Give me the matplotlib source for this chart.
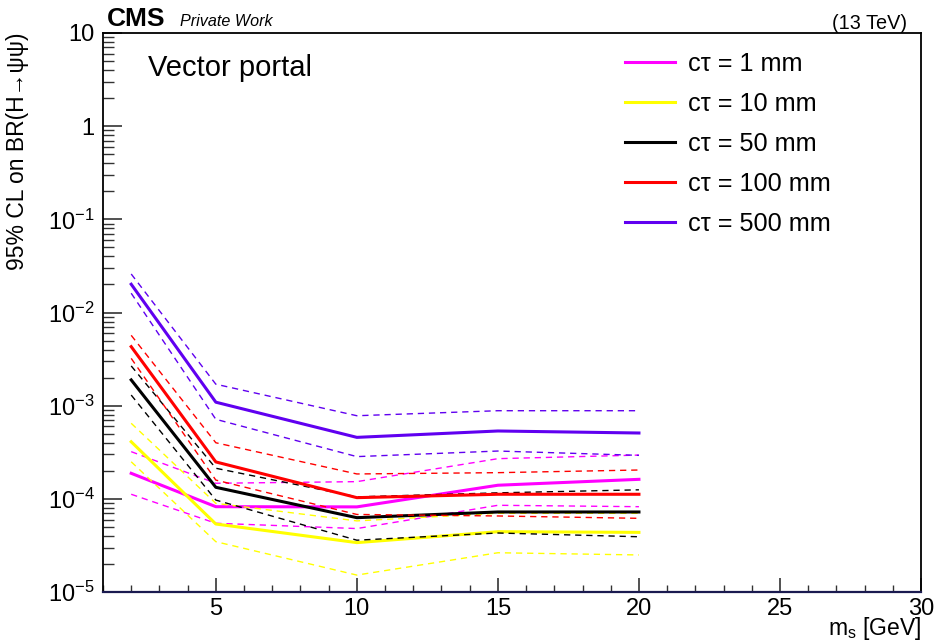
import matplotlib
matplotlib.use('Agg')
import matplotlib.pyplot as plt
from matplotlib.ticker import FixedLocator, FixedFormatter, MultipleLocator, LogLocator, NullFormatter

plt.rcParams['font.family'] = ['Liberation Sans', 'DejaVu Sans']
plt.rcParams['mathtext.fontset'] = 'custom'
plt.rcParams['mathtext.rm'] = 'Liberation Sans'
plt.rcParams['mathtext.it'] = 'Liberation Sans:italic'

# mass points [GeV]
mass = [2, 5, 10, 15, 20]

# expected limits with +/-1 sigma bands, one set per lifetime
ct1_exp = [1.88e-4, 8.24e-5, 8.2e-5, 1.40e-4, 1.62e-4]
ct1_up = [3.21e-4, 1.47e-4, 1.53e-4, 2.70e-4, 2.95e-4]
ct1_dn = [1.12e-4, 5.47e-5, 4.8e-5, 8.53e-5, 8.24e-5]

ct10_exp = [4.10e-4, 5.37e-5, 3.39e-5, 4.44e-5, 4.37e-5]
ct10_up = [6.47e-4, 8.95e-5, 5.8e-5, 7.0e-5, 7.0e-5]
ct10_dn = [2.5e-4, 3.47e-5, 1.52e-5, 2.64e-5, 2.50e-5]

ct50_exp = [1.89e-3, 1.33e-4, 6.28e-5, 7.23e-5, 7.23e-5]
ct50_up = [2.67e-3, 2.13e-4, 1.05e-4, 1.16e-4, 1.25e-4]
ct50_dn = [1.30e-3, 9.7e-5, 3.6e-5, 4.3e-5, 3.92e-5]

ct100_exp = [4.30e-3, 2.49e-4, 1.03e-4, 1.12e-4, 1.12e-4]
ct100_up = [5.69e-3, 4.0e-4, 1.85e-4, 1.91e-4, 2.04e-4]
ct100_dn = [3.22e-3, 1.59e-4, 6.8e-5, 6.55e-5, 6.18e-5]

ct500_exp = [2.01e-2, 1.09e-3, 4.57e-4, 5.35e-4, 5.09e-4]
ct500_up = [2.59e-2, 1.70e-3, 7.8e-4, 8.83e-4, 8.83e-4]
ct500_dn = [1.61e-2, 7.14e-4, 2.84e-4, 3.26e-4, 2.93e-4]

labels = ['cτ = 1 mm', 'cτ = 10 mm', 'cτ = 50 mm', 'cτ = 100 mm', 'cτ = 500 mm']
colors = ['#ff00ff', '#ffff00', '#000000', '#ff0000', '#6000f0']

ytick_vals = [1e-5, 1e-4, 1e-3, 1e-2, 1e-1, 1, 10]
ytick_text = ['$10^{-5}$', '$10^{-4}$', '$10^{-3}$', '$10^{-2}$', '$10^{-1}$', '1', '10']

series = [
    (ct1_exp, ct1_up, ct1_dn),
    (ct10_exp, ct10_up, ct10_dn),
    (ct50_exp, ct50_up, ct50_dn),
    (ct100_exp, ct100_up, ct100_dn),
    (ct500_exp, ct500_up, ct500_dn),
]

fig = plt.figure(figsize=(9.38, 6.44), dpi=100)
ax = fig.add_axes([0.1098, 0.0807, 0.8721, 0.8681])

handles = []
for (exp, up, dn), lab, col in zip(series, labels, colors):
    for band in (up, dn):
        ax.plot(mass, band, color=col, lw=1.0, dashes=(4.5, 3.5))
    h, = ax.plot(mass, exp, color=col, lw=2.2, label=lab)
    handles.append(h)

ax.set_yscale('log')
ax.set_xlim(1, 30)
ax.set_ylim(1e-5, 10)

ax.yaxis.set_major_locator(FixedLocator(ytick_vals))
ax.yaxis.set_major_formatter(FixedFormatter(ytick_text))
ax.yaxis.set_minor_locator(LogLocator(base=10, subs=range(2, 10), numticks=20))
ax.yaxis.set_minor_formatter(NullFormatter())
ax.xaxis.set_major_locator(MultipleLocator(5))
ax.xaxis.set_minor_locator(MultipleLocator(1))

ax.tick_params(axis='both', which='both', direction='in', top=False, right=False,
               labelsize=17, color='#333333')
ax.tick_params(axis='y', which='major', length=14, width=1.2, pad=6)
ax.tick_params(axis='y', which='minor', length=8, width=1.0)
ax.tick_params(axis='x', which='major', length=10, width=1.2, pad=4)
ax.tick_params(axis='x', which='minor', length=5, width=1.0)

for side in ('top', 'right', 'left'):
    ax.spines[side].set_linewidth(1.3)
    ax.spines[side].set_color('black')
ax.spines['bottom'].set_linewidth(1.6)
ax.spines['bottom'].set_color('#1a1a50')

# axis titles pinned to the top / right ends like ROOT does
ax.set_ylabel('95% CL on BR(H→ψψ)', fontsize=16.5)
ax.yaxis.label.set_rotation_mode('anchor')
ax.yaxis.label.set_ha('right')
ax.yaxis.label.set_va('center')
ax.yaxis.set_label_coords(-0.104, 1.0)
ax.set_xlabel(r'm$_\mathregular{s}$ [GeV]', fontsize=16.5)
ax.xaxis.label.set_ha('right')
ax.xaxis.label.set_va('center')
ax.xaxis.set_label_coords(1.0, -0.066)

ax.text(0.055, 0.937, 'Vector portal', transform=ax.transAxes, fontsize=21,
        ha='left', va='center')

fig.text(0.114, 0.970, 'CMS', fontsize=19, fontweight='bold', ha='left', va='center')
fig.text(0.192, 0.966, 'Private Work', fontsize=11.6, style='italic', ha='left', va='center')
fig.text(0.967, 0.963, '(13 TeV)', fontsize=14.3, ha='right', va='center')

ax.legend(handles=handles, loc='upper left', bbox_to_anchor=(0.666, 0.919),
          bbox_transform=fig.transFigure, frameon=False, fontsize=18.2,
          handlelength=2.0, handletextpad=0.5, labelspacing=0.63,
          borderpad=0, borderaxespad=0)

fig.savefig('out.png', dpi=100)
